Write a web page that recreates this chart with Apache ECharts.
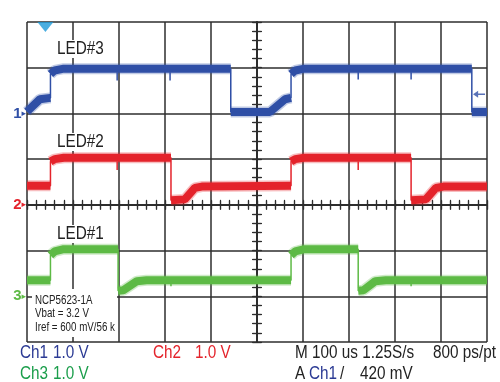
<!DOCTYPE html>
<html><head><meta charset="utf-8">
<script src="https://cdn.jsdelivr.net/npm/echarts@6/dist/echarts.min.js"></script>
<style>html,body{margin:0;padding:0;background:#fff}#c{width:500px;height:382px}</style>
</head><body><div id="c"></div>
<script>
// ---- scope settings ----
const timeMin = -500, timeMax = 500, timeStep = 100;   // us, 100 us/div
const divMin = -3, divMax = 4;                         // screen divisions, 1 V/div
const channelNames = ['1', '2', '3'];
const channelGround = [2, 0, -2];                      // ground marker, in divisions
const channelColors = ['#2f4fa6', '#e4232b', '#5dba45'];
const labelColors = ['#2b3a94', '#e4232b', '#1b9e4b'];
const ledLabels = ['LED#3', 'LED#2', 'LED#1'];
const noteLines = ['NCP5623-1A', 'Vbat = 3.2 V', 'Iref = 600 mV/56 k'];
const triggerTime = -460;       // us
const triggerLevel = 0.42;      // V on Ch1

// ---- traces (time us, volts above channel ground) ----
const ch1Time  = [-500, -472, -449, -449, -440, -420, -57, -57, 28, 61, 74, 74, 83, 103, 467, 467, 500];
const ch1Volts = [0.04, 0.31, 0.34, 0.86, 0.94, 0.98, 0.98, 0.03, 0.03, 0.31, 0.34, 0.86, 0.94, 0.98, 0.98, 0.03, 0.03];

const ch2Time  = [-500, -449, -449, -440, -420, -187, -187, -157, -135, -120, 74, 74, 83, 103, 335, 335, 367, 389, 405, 500];
const ch2Volts = [0.42, 0.42, 0.95, 1.00, 1.03, 1.03, 0.10, 0.12, 0.37, 0.40, 0.42, 0.95, 1.00, 1.03, 1.03, 0.10, 0.12, 0.37, 0.40, 0.40];

const ch3Time  = [-500, -449, -449, -440, -420, -302, -302, -291, -261, -240, 74, 74, 83, 103, 220, 220, 231, 257, 280, 500];
const ch3Volts = [0.35, 0.35, 0.90, 0.98, 1.03, 1.03, 0.12, 0.13, 0.33, 0.35, 0.35, 0.90, 0.98, 1.03, 1.03, 0.12, 0.13, 0.33, 0.35, 0.35];

// short glitches (time us, from V, to V)
const ch1SpikeTime = [-304, -189, 220, 335];
const ch1SpikeFrom = [0.90, 0.90, 0.90, 0.90];
const ch1SpikeTo   = [0.72, 0.72, 0.74, 0.74];
const ch2SpikeTime = [-304, 220];
const ch2SpikeFrom = [0.95, 0.95];
const ch2SpikeTo   = [0.76, 0.76];
const ch3SpikeTime = [-187, 335];
const ch3SpikeFrom = [0.30, 0.30];
const ch3SpikeTo   = [0.22, 0.22];

const FONT = "'Liberation Sans',Arial,sans-serif";
const NARROW = 0.85;
const GRID_COLOR = '#2e2e2e';

const traces = [[ch1Time, ch1Volts], [ch2Time, ch2Volts], [ch3Time, ch3Volts]];
const spikes = [[ch1SpikeTime, ch1SpikeFrom, ch1SpikeTo], [ch2SpikeTime, ch2SpikeFrom, ch2SpikeTo], [ch3SpikeTime, ch3SpikeFrom, ch3SpikeTo]];

function fullData(i) {
  const [t, v] = traces[i];
  return t.map((x, k) => [x, channelGround[i] + v[k]]);
}
function bandData(i) {   // thick noisy band, broken at vertical edges
  const [t, v] = traces[i];
  const out = [];
  t.forEach((x, k) => {
    if (k > 0 && t[k - 1] === x) out.push([x, '-']);
    out.push([x, channelGround[i] + v[k]]);
  });
  return out;
}
function spikeData(i) {
  const [t, a, b] = spikes[i];
  const out = [];
  t.forEach((x, k) => {
    out.push([x, channelGround[i] + a[k]], [x, channelGround[i] + b[k]], [x, '-']);
  });
  return out;
}

const gridRect = { left: 27, top: 22, width: 460, height: 320 };
const baseAxis = {
  type: 'value', min: timeMin, max: timeMax, interval: timeStep,
  axisLabel: { show: false }, splitLine: { show: false },
  axisLine: { show: true, lineStyle: { color: GRID_COLOR, width: 1.5 } },
  axisTick: { show: true, inside: true, length: 5, lineStyle: { color: GRID_COLOR, width: 1.2 } },
  minorTick: { show: true, splitNumber: 5, length: 5, lineStyle: { color: GRID_COLOR, width: 1.2 } }
};
const baseY = Object.assign({}, baseAxis, { min: divMin, max: divMax, interval: 1 });

function clone(o, extra) { return Object.assign(JSON.parse(JSON.stringify(o)), extra); }

const rich = {};
channelNames.forEach((n, i) => {
  rich['c' + i] = { color: channelColors[i], fontSize: 15, fontWeight: 'bold', fontFamily: 'Liberation Sans' };
  rich['a' + i] = { color: channelColors[i], fontSize: 9, fontFamily: 'DejaVu Sans' };
});

const xAxes = [
  clone(baseAxis, { gridIndex: 0, position: 'bottom',
    splitLine: { show: true, lineStyle: { color: GRID_COLOR, width: 1.5 } } }),
  clone(baseAxis, { gridIndex: 0, position: 'top' }),
  clone(baseAxis, { gridIndex: 1, position: 'bottom' }),
  clone(baseAxis, { gridIndex: 2, position: 'bottom' })
];
xAxes[2].axisLine.onZero = true; xAxes[2].axisTick.length = 4; xAxes[2].minorTick.length = 4;
xAxes[3].axisLine.onZero = true; xAxes[3].axisTick.inside = false; xAxes[3].axisTick.length = 4; xAxes[3].minorTick.length = 4;

const yAxes = [
  clone(baseY, { gridIndex: 0, position: 'left',
    splitLine: { show: true, lineStyle: { color: GRID_COLOR, width: 1.5 } } }),
  clone(baseY, { gridIndex: 0, position: 'right' }),
  clone(baseY, { gridIndex: 1, position: 'left' }),
  clone(baseY, { gridIndex: 2, position: 'left' })
];
yAxes[0].axisLabel = {
  show: true, margin: 1, rich: rich,
  formatter: function (v) {
    const i = channelGround.indexOf(v);
    return i < 0 ? '' : '{c' + i + '|' + channelNames[i] + '}{a' + i + '|\u25B8}';
  }
};
yAxes[2].axisLine.onZero = true; yAxes[2].axisTick.length = 4; yAxes[2].minorTick.length = 4;
yAxes[3].axisLine.onZero = true; yAxes[3].axisTick.inside = false; yAxes[3].axisTick.length = 4; yAxes[3].minorTick.length = 4;

const series = [];
[0, 1, 2].forEach(i => {
  series.push({ type: 'line', data: bandData(i), showSymbol: false, symbol: 'none', connectNulls: false,
    lineStyle: { color: channelColors[i], width: 11, opacity: 0.3 }, z: 3 });
  series.push({ type: 'line', data: bandData(i), showSymbol: false, symbol: 'none', connectNulls: false,
    lineStyle: { color: channelColors[i], width: 8, opacity: 1 }, z: 4 });
  series.push({ type: 'line', data: fullData(i), showSymbol: false, symbol: 'none',
    lineStyle: { color: channelColors[i], width: 1.5 }, z: 5 });
  series.push({ type: 'line', data: spikeData(i), showSymbol: false, symbol: 'none', connectNulls: false,
    lineStyle: { color: channelColors[i], width: 1.5 }, z: 5 });
});
// trigger position marker (top) and trigger level arrow (right)
series.push({ type: 'scatter', data: [[triggerTime, divMax]], clip: false, z: 6,
  symbol: 'path://M0,0 L16,0 L8,10 Z', symbolSize: [16, 10], symbolOffset: [0, 5],
  itemStyle: { color: '#1e9ad8' } });
series.push({ type: 'scatter', data: [[timeMax, channelGround[0] + triggerLevel]], clip: false, z: 6,
  symbol: 'path://M0,5 L6,0 L6,3.8 L14,3.8 L14,6.2 L6,6.2 L6,10 Z', symbolSize: [12, 7], symbolOffset: [-8, 0],
  itemStyle: { color: channelColors[0] } });

function txt(text, x, y, size, color, extra, sx) {
  return { type: 'text', x: x, y: y, z: 100, scaleX: sx || NARROW,
    style: Object.assign({ text: text, fill: color, font: size + 'px ' + FONT, textVerticalAlign: 'middle' }, extra || {}) };
}

const graphics = [
  { type: 'rect', shape: { x: 32, y: 289, width: 85, height: 48 }, style: { fill: '#fff' }, z: 1 },
  txt(ledLabels[0], 57, 49, 18, '#222', { backgroundColor: '#fff' }),
  txt(ledLabels[1], 57, 142, 18, '#222', { backgroundColor: '#fff' }),
  txt(ledLabels[2], 57, 234, 18, '#222', { backgroundColor: '#fff' }),
  txt(noteLines[0], 35, 301, 12.5, '#222', null, 0.78),
  txt(noteLines[1], 35, 314, 12.5, '#222', null, 0.78),
  txt(noteLines[2], 35, 328, 12.5, '#222', null, 0.78),
  txt('Ch1', 20, 353, 18, labelColors[0]),
  txt('1.0 V', 53, 353, 18, labelColors[0]),
  txt('Ch2', 153, 353, 18, labelColors[1]),
  txt('1.0 V', 195, 353, 18, labelColors[1]),
  txt('Ch3', 20, 374, 18, labelColors[2]),
  txt('1.0 V', 53, 374, 18, labelColors[2]),
  txt('M 100 us 1.25S/s', 295, 353, 18, '#222'),
  txt('800 ps/pt', 433, 353, 18, '#222'),
  txt('A', 295, 374, 18, '#222'),
  txt('Ch1', 309, 374, 18, labelColors[0]),
  txt('/', 340, 374, 18, '#222'),
  txt(Math.round(triggerLevel * 1000) + ' mV', 360, 374, 18, '#222')
];

const chart = echarts.init(document.getElementById('c'), null, { renderer: 'canvas' });
chart.setOption({
  animation: false,
  backgroundColor: '#fff',
  grid: [Object.assign({}, gridRect), Object.assign({}, gridRect), Object.assign({}, gridRect)],
  xAxis: xAxes,
  yAxis: yAxes,
  series: series,
  graphic: graphics
});
</script></body></html>
